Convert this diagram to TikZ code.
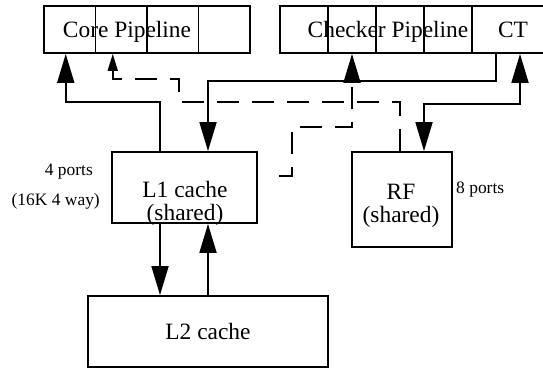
\documentclass[tikz,border=0pt]{standalone}
\usepackage{fontspec}
\setmainfont{Liberation Serif}
\usetikzlibrary{arrows.meta, positioning, calc}
\tikzset{
  cell/.style  = {rectangle, draw, line width=1.8bp, minimum width=#1,
                  minimum height=47bp, inner sep=0pt,
                  font=\fontsize{23.5}{24}\selectfont},
  cell/.default = 51.5bp,
  blk/.style   = {rectangle, draw, line width=1.8bp, inner sep=0pt,
                  minimum width=#1, minimum height=71bp,
                  font=\fontsize{23.5}{24}\selectfont},
  txt/.style   = {font=\fontsize{23.5}{23}\selectfont, align=center,
                  inner sep=0pt},
  lbl/.style   = {font=\fontsize{17.5}{20}\selectfont, inner sep=0pt},
  arr/.style   = {-{Triangle[length=29bp, width=17bp]}, line width=1.8bp},
  darr/.style  = {arr, dash pattern=on 22bp off 13bp},
  sarr/.style  = {-{Triangle[length=17bp, width=10bp]}, line width=1.8bp,
                  dash pattern=on 22bp off 13bp},
}

\begin{document}
\begin{tikzpicture}[x=1bp, y=-1bp]
  \useasboundingbox (0,0) rectangle (543,368);

  % pipelines
  \foreach \i in {0,...,3}
    \node[cell] (core\i) at ({69.75+51.5*\i},29.5) {};
  \foreach \i in {0,...,3}
    \node[cell=48bp] (chk\i) at ({304+48*\i},29.5) {};
  \node[cell=82bp] (ct) at (513,29.5) {CT};
  \node[txt, anchor=base] (coretxt) at (127,37.5) {Core Pipeline};
  \node[txt, anchor=base] (chktxt)  at (388,37.5) {Checker Pipeline};

  % caches and register file
  \node[blk=145bp] (l1) at (184.5,187.5) {};
  \node[txt] (l1txt) at (185,203) {L1 cache\\(shared)};
  \node[blk=100bp, minimum height=95bp] (rf) at (402,199.5) {};
  \node[txt] (rftxt) at (401,205.5) {RF\\(shared)};
  \node[blk=240bp] (l2) at (208,331.5) {L2 cache};

  \node[lbl, anchor=east] (l1ports) at (93,172)  {4 ports};
  \node[lbl, anchor=east] (l1size)  at (100,201) {(16K 4 way)};
  \node[lbl, anchor=west] (rfports) at (456,190) {8 ports};

  \coordinate (dstart) at (279,176);

  % solid connectors
  \draw[arr] ([xshift=-24.5bp]l1.north) -- ++(0,-49) -| ([xshift=-4bp]core0.south);
  \draw[arr] ([xshift=-17bp]ct.south) -- ++(0,27) -| ([xshift=23.5bp]l1.north);
  \draw[arr, {Triangle[length=29bp, width=17bp]}-{Triangle[length=29bp, width=17bp]}]
        ([xshift=7bp]ct.south) -- ++(0,50) -| ([xshift=22bp]rf.north);
  \draw[arr] ([xshift=-24.5bp]l1.south) -- ([xshift=-48bp]l2.north);
  \draw[arr] (l2.north) -- ([xshift=23.5bp]l1.south);

  % dashed connectors
  \draw[sarr] ([xshift=-2bp]rf.north) -- ++(0,-49) -| ++(-221,-23)
              -| ([xshift=-8.5bp]core1.south);
  \draw[darr] (dstart) -- ++(13,0) |- ++(60,-49) -- (chk1.south);

\end{tikzpicture}
\end{document}
